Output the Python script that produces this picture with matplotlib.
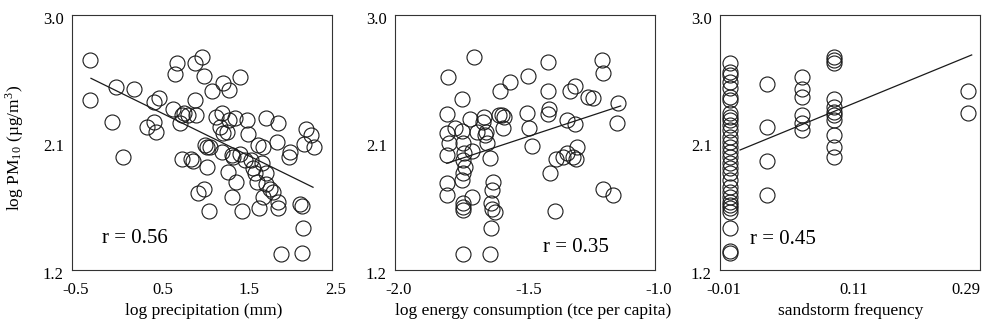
import numpy as np
import matplotlib
matplotlib.use("Agg")
import matplotlib.pyplot as plt
from matplotlib.transforms import ScaledTranslation

plt.rcParams['font.family'] = ['Liberation Serif', 'DejaVu Serif']
plt.rcParams['mathtext.fontset'] = 'stix'

#---data---#
precip_x = [-0.297, -0.297, 0.006, 0.210, -0.040, 0.087, 0.363, 0.447, 0.467, 0.451,
            0.509, 0.708, 0.693, 0.670, 0.747, 0.793, 0.843, 0.919, 0.931, 0.919,
            0.996, 1.023, 1.119, 1.238, 1.314, 1.437, 0.766, 0.869, 0.900, 1.034,
            1.054, 1.054, 1.023, 0.958, 1.084, 1.161, 1.226, 1.207, 1.245, 1.284,
            1.314, 1.383, 1.522, 1.525, 1.226, 1.295, 1.341, 1.360, 1.437, 1.391,
            1.341, 1.456, 1.560, 1.583, 1.610, 1.629, 1.660, 1.648, 1.706, 1.687,
            1.744, 1.736, 1.782, 1.706, 1.744, 1.878, 1.871, 1.821, 1.878, 1.878,
            2.013, 2.005, 2.135, 2.158, 2.166, 2.158, 1.917, 2.204, 2.262, 2.174,
            2.289, 1.495, 1.092, 0.766]
precip_y = [2.682, 2.400, 2.489, 2.475, 2.247, 2.000, 2.212, 2.247, 2.176, 2.388,
            2.416, 2.664, 2.584, 2.334, 2.240, 2.306, 2.294, 2.400, 2.294, 2.664,
            2.701, 2.569, 2.466, 2.522, 2.471, 2.560, 1.981, 1.981, 1.972, 2.082,
            2.071, 1.925, 1.772, 1.741, 1.616, 2.278, 2.306, 2.212, 2.169, 2.176,
            2.259, 2.275, 2.259, 2.160, 2.035, 1.894, 2.012, 2.000, 2.019, 1.824,
            1.718, 1.616, 1.976, 1.918, 1.882, 1.824, 1.635, 2.082, 2.071, 1.953,
            1.882, 1.805, 1.772, 1.718, 2.271, 2.235, 2.101, 1.753, 1.682, 1.635,
            2.035, 2.000, 1.666, 1.652, 1.494, 1.318, 1.313, 2.193, 2.153, 2.087,
            2.071, 1.976, 2.071, 2.294]
precip_fit_x = [-0.281, 2.281]
precip_fit_y = [2.553, 1.784]

energy_x = [-1.696, -1.795, -1.741, -1.799, -1.799, -1.794, -1.799, -1.769, -1.744, -1.737,
            -1.735, -1.740, -1.731, -1.737, -1.744, -1.799, -1.799, -1.740, -1.737, -1.740,
            -1.705, -1.705, -1.712, -1.658, -1.660, -1.650, -1.647, -1.635, -1.654, -1.622,
            -1.628, -1.632, -1.626, -1.615, -1.632, -1.635, -1.740, -1.596, -1.558, -1.600,
            -1.579, -1.583, -1.487, -1.491, -1.483, -1.474, -1.410, -1.410, -1.406, -1.410,
            -1.381, -1.404, -1.355, -1.340, -1.327, -1.308, -1.337, -1.308, -1.299, -1.304,
            -1.317, -1.256, -1.237, -1.205, -1.199, -1.141, -1.145, -1.201, -1.160, -1.385,
            -1.590, -1.686]
energy_y = [2.701, 2.560, 2.407, 2.301, 2.165, 2.094, 2.012, 2.200, 2.184, 2.094,
            2.024, 1.976, 1.929, 1.882, 1.835, 1.816, 1.729, 1.675, 1.647, 1.624,
            1.718, 2.042, 2.264, 2.278, 2.247, 2.176, 2.094, 1.988, 2.153, 1.824,
            1.765, 1.671, 1.628, 1.612, 1.494, 1.313, 1.313, 2.466, 2.529, 2.294,
            2.278, 2.200, 2.569, 2.306, 2.200, 2.075, 2.671, 2.466, 2.334, 2.301,
            1.981, 1.887, 2.000, 2.028, 2.466, 2.499, 2.259, 2.231, 2.071, 1.981,
            2.000, 2.424, 2.412, 2.682, 2.593, 2.381, 2.240, 1.769, 1.729, 1.616,
            2.294, 2.176]
energy_fit_x = [-1.801, -1.132]
energy_fit_y = [1.953, 2.358]

# sandstorm frequency, grouped by column
sand_levels = [0.002, 0.0446, 0.0842, 0.1215, 0.2765]
sand_groups = [
    [2.659, 2.600, 2.576, 2.529, 2.482, 2.424, 2.400, 2.306, 2.282, 2.259,
     2.224, 2.188, 2.141, 2.106, 2.071, 2.035, 2.000, 1.953, 1.918, 1.882,
     1.835, 1.788, 1.753, 1.718, 1.682, 1.659, 1.635, 1.612, 1.494, 1.336, 1.322],
    [2.513, 2.207, 1.969, 1.729],
    [2.565, 2.475, 2.424, 2.294, 2.235, 2.188],
    [2.701, 2.682, 2.659, 2.405, 2.353, 2.318, 2.294, 2.259, 2.153, 2.071, 2.000],
    [2.466, 2.306],
]
sand_fit_x = [0.0131, 0.2804]
sand_fit_y = [2.047, 2.718]

y_ticks = [1.2, 2.1, 3.0]
y_ticklabels = ['1.2', '2.1', '3.0']

panels = [
    dict(x=precip_x, y=precip_y, fx=precip_fit_x, fy=precip_fit_y,
         xlim=(-0.5, 2.5), xt=[-0.5, 0.5, 1.5, 2.5], xtl=['-0.5', '0.5', '1.5', '2.5'],
         xlabel='log precipitation (mm)', r='r = 0.56', rpos=(0.115, 0.122), lshift=2),
    dict(x=energy_x, y=energy_y, fx=energy_fit_x, fy=energy_fit_y,
         xlim=(-2.0, -1.0), xt=[-2.0, -1.5, -1.0], xtl=['-2.0', '-1.5', '-1.0'],
         xlabel='log energy consumption (tce per capita)', r='r = 0.35', rpos=(0.57, 0.09),
         lshift=8),
    dict(x=[lv for lv, g in zip(sand_levels, sand_groups) for _ in g],
         y=[v for g in sand_groups for v in g], fx=sand_fit_x, fy=sand_fit_y,
         xlim=(-0.01, 0.29), xt=[-0.01, 0.14, 0.29], xtl=['-0.01', '0.11', '0.29'],
         xlabel='sandstorm frequency', r='r = 0.45', rpos=(0.115, 0.118), lshift=1),
]

fig = plt.figure(figsize=(9.92, 3.31), dpi=100)
lefts = [72, 395, 720]
shift_x = ScaledTranslation(4 / 100, 0, fig.dpi_scale_trans)
shift_y = ScaledTranslation(0, -3 / 100, fig.dpi_scale_trans)

for i, p in enumerate(panels):
    ax = fig.add_axes([lefts[i] / 992, 61 / 331, 260 / 992, 255 / 331])
    ax.plot(p['x'], p['y'], 'o', ms=10.8, mfc='none', mec='#1a1a1a', mew=0.8)
    ax.plot(p['fx'], p['fy'], '-', color='#1a1a1a', lw=0.9)
    ax.set_xlim(*p['xlim'])
    ax.set_ylim(1.2, 3.0)
    ax.set_xticks(p['xt'])
    ax.set_xticklabels(p['xtl'])
    ax.set_yticks(y_ticks)
    ax.set_yticklabels(y_ticklabels)
    ax.tick_params(length=0, labelsize=12)
    ax.tick_params(axis='y', pad=6)
    ax.tick_params(axis='x', pad=8.5)
    xlabs = ax.get_xticklabels()
    for lab in xlabs:
        lab.set_transform(lab.get_transform() + shift_x)
    if i == 2:
        # last label sits flush with the right frame in the original
        xlabs[-1].set_transform(ax.get_xaxis_transform() +
                                ScaledTranslation(0, -8.5 / 72, fig.dpi_scale_trans))
        xlabs[-1].set_ha('right')
    for lab in ax.get_yticklabels():
        lab.set_transform(lab.get_transform() + shift_y)
    for s in ax.spines.values():
        s.set_color('#333333')
        s.set_linewidth(0.8)
    ax.set_xlabel(p['xlabel'], fontsize=12.5, labelpad=3.5)
    xl = ax.xaxis.label
    xl.set_transform(xl.get_transform() +
                     ScaledTranslation(p['lshift'] / 100, 0, fig.dpi_scale_trans))
    ax.text(p['rpos'][0], p['rpos'][1], p['r'], transform=ax.transAxes,
            fontsize=15, va='center')
    if i == 0:
        ax.set_ylabel('log PM$_{\\mathregular{10}}$ (µg/m$^{\\mathregular{3}}$)', fontsize=12.5)
        ax.yaxis.set_label_coords(-0.175, 0.478)

fig.savefig('out.png', dpi=100)
